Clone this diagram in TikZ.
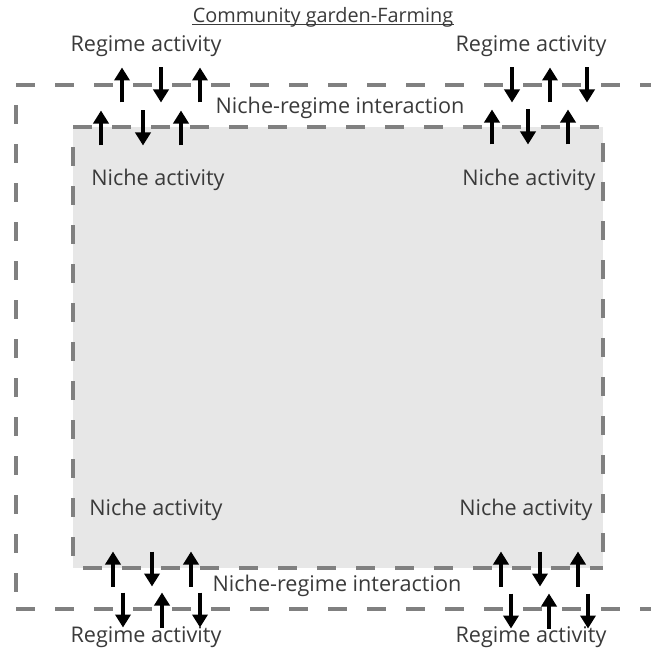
\documentclass[tikz,border=0pt]{standalone}
\usepackage{fontspec}
\setmainfont{Open Sans}
\usetikzlibrary{arrows.meta}

\definecolor{dashgray}{HTML}{808080}
\definecolor{nichefill}{HTML}{E7E7E7}
\definecolor{labeltext}{HTML}{3A3A3A}

\tikzset{
    boundary/.style={dashgray, line width=2.3pt, dash pattern=on 10.6pt off 11.6pt},
    flow/.style={black, line width=2.1pt, -{Triangle[width=8.6pt, length=7.4pt]}},
    lbl/.style={text=labeltext, inner sep=0pt}
}

\begin{document}
\begin{tikzpicture}[x=0.02cm, y=-0.02cm, font=\fontsize{12.3}{14}\selectfont]
    \useasboundingbox (0,0) rectangle (651,655);

    % niche area
    \fill[nichefill] (73,127) rectangle (603,568);
    \draw[boundary] (73,127) -- (603,127);
    \draw[boundary, dash phase=10.6pt] (73,127) -- (73,568);
    \draw[boundary] (83,568) -- (603,568);
    \draw[boundary, dash phase=13pt] (603,127) -- (603,568);

    % regime frame
    \draw[boundary] (16,85) -- (651,85);
    \draw[boundary, dash phase=10.6pt] (16,85) -- (16,609);
    \draw[boundary] (16,609) -- (651,609);

    % activity arrows (1 = up, -1 = down)
    \foreach \x/\y/\d in {122/85/1, 161/85/-1, 200/85/1,
                          512/85/-1, 550/85/1, 587/85/-1,
                          101/128/1, 143/128/-1, 181/128/1,
                          492/127/1, 528/127/-1, 568/127/1,
                          113/569/1, 152/569/-1, 191/569/1,
                          501/569/1, 540/569/-1, 578/569/1,
                          123/610/-1, 162/610/1, 200/610/-1,
                          511/611/-1, 549/611/1, 588/611/-1} {
        \draw[flow] (\x,\y+17.5*\d) -- (\x,\y-17.5*\d);
    }

    % labels
    \node[lbl, font=\fontsize{11.3}{13}\selectfont] (title) at (323,17) {Community garden-Farming};
    \draw[labeltext, line width=0.7pt] ([yshift=-1.4pt]title.base west) -- ([yshift=-1.4pt]title.base east);
    \node[lbl] (regimeTL) at (146,46) {Regime activity};
    \node[lbl] (regimeTR) at (531,46) {Regime activity};
    \node[lbl] (interTop) at (340,108) {Niche-regime interaction};
    \node[lbl] (nicheTL) at (158,180) {Niche activity};
    \node[lbl] (nicheTR) at (529,180) {Niche activity};
    \node[lbl] (nicheBL) at (156,510) {Niche activity};
    \node[lbl] (nicheBR) at (526,510) {Niche activity};
    \node[lbl] (interBot) at (337,586) {Niche-regime interaction};
    \node[lbl] (regimeBL) at (146,637) {Regime activity};
    \node[lbl] (regimeBR) at (531,637) {Regime activity};
\end{tikzpicture}
\end{document}
